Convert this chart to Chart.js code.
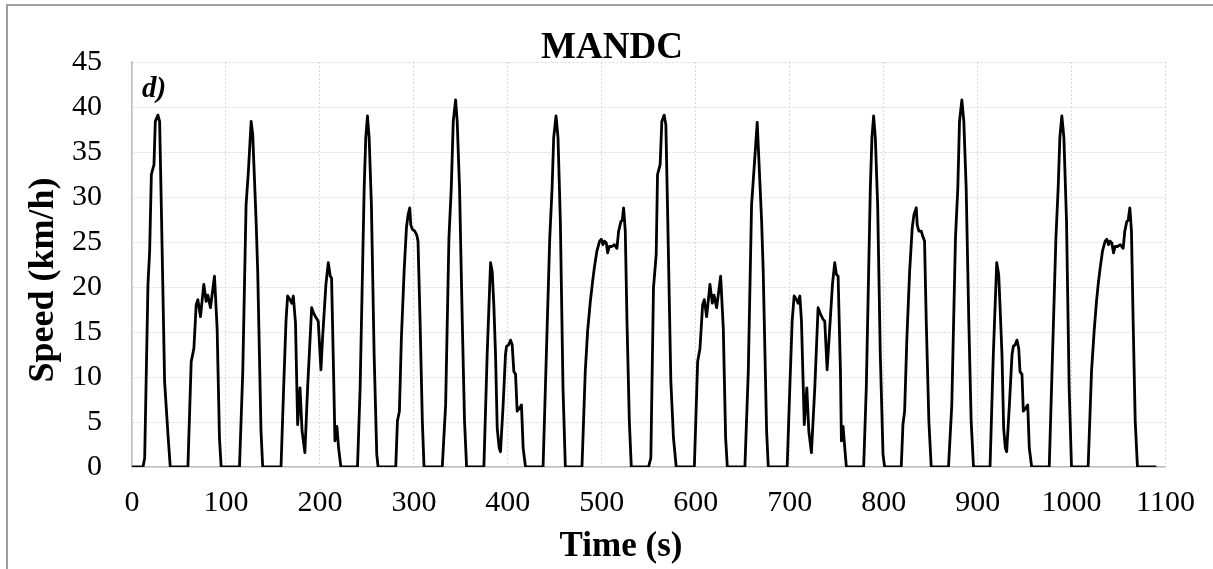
<!DOCTYPE html>
<html>
<head>
<meta charset="utf-8">
<script src="https://cdn.jsdelivr.net/npm/chart.js@4.4.1/dist/chart.umd.min.js"></script>
<style>
  html, body { margin: 0; padding: 0; background: #fff; }
  canvas { display: block; }
</style>
</head>
<body>
<canvas id="speedChart" width="1213" height="569"></canvas>
<script>
// MANDC drive cycle (time in s, speed in km/h)
const timeSec = [
  0, 11.7, 13.5, 17, 18.8, 20.6, 23.4, 24.8, 27.6, 29.4, 31.2, 34.7, 38.3, 40.7,
  59.5, 63, 65.9, 68.3, 70.1, 72.9, 76.4, 78.9, 80.7, 83.5, 87.8, 90.6, 93.1, 94.9,
  114.4, 117.9, 121.4, 123.9, 126.8, 128.5, 132.1, 133.8, 137.3, 139.1,
  158.6, 161.4, 163.9, 165.6, 168.1, 170, 171.7, 174, 176.3, 178.8, 181, 184, 186.9, 191.2, 193.3, 195.8, 198.2, 201.1, 202.8, 206.4, 208.9, 211, 212.4, 214.5, 216, 218.1, 219.9, 222.3,
  240, 242.8, 245.3, 247.1, 248.8, 250.6, 252.4, 254.8, 257.7, 260.5, 261.9,
  280.7, 282.5, 284.6, 286.7, 289.6, 292.1, 293.8, 295.6, 296.7, 298.4, 300.9, 303, 304.4, 306.6, 309, 310.8,
  330.2, 333.8, 337.3, 339.8, 341.9, 344.4, 346.1, 348.6, 351.5, 353.9, 356.1,
  374.5, 378, 381.6, 383.4, 385.1, 386.9, 388.7, 390.8, 392.2, 395, 397.5, 398.6, 401.1, 402.8, 404.6, 406.4, 408.2, 409.9, 412.8, 414.5, 416.3, 418.8,
  437.5, 441, 444.6, 447.1, 448.8, 451.3, 453.4, 455.9, 458.7, 461.2,
  478.9, 482.4, 484.9, 487.8, 490.2, 492, 494.8, 497.7, 499.5, 501.2, 502.7, 504.8, 506.2, 508, 510.8, 513.3, 516.1, 517.9, 520.4, 521.8, 523.2, 525, 526.8, 529.3, 531.4,
  549.7, 552.2, 555, 557.9, 559.3, 562.1, 563.9, 566.4, 568.2, 569.9, 573.5, 576.3, 579.2,
  598.5, 602, 604.5, 607.3, 609.1, 611.6, 615.1, 617.6, 619.4, 622.2, 626.5, 629.3, 631.8, 633.6,
  652.3, 655.9, 659.4, 661.9, 665.4, 670.1, 671.8, 675.4, 677.2,
  697.3, 700.1, 702.6, 704.7, 707.2, 709, 710.8, 712.5, 715.5, 718.2, 720.3, 723.1, 726.7, 730.2, 732.7, 735.5, 737.3, 739.8, 741.9, 745.5, 747.9, 749.7, 751.5, 754, 755, 756.8, 758.6, 760.3,
  778.7, 781.5, 784, 785.8, 787.5, 789.3, 791.1, 793.6, 796.4, 799.3, 801,
  818.7, 820.5, 822.3, 824.7, 827.6, 830.4, 832.2, 834.7, 835.7, 837.5, 840, 841.7, 843.5, 845.3, 848.1, 850.6,
  869, 872.5, 876.4, 878.9, 880.7, 883.2, 885.3, 887.8, 890.6, 893.1, 895.6,
  913.2, 916.7, 920.3, 922.4, 923.8, 925.9, 927.7, 929.5, 930.9, 933.8, 936.6, 938, 940.1, 941.9, 943.7, 945.1, 947.2, 948.6, 951.5, 953.3, 955, 957.5,
  976.2, 979.7, 983.3, 985.7, 987.5, 989.6, 991.8, 994.6, 997.4, 999.9,
  1017.6, 1021.2, 1024, 1026.5, 1028.6, 1030.4, 1032.9, 1035.7, 1037.5, 1039.3, 1041, 1042.8, 1044.6, 1046.4, 1048.8, 1051.7, 1054.9, 1056.6, 1058.8, 1060.2, 1062, 1063.7, 1065.5, 1067.7, 1070.1, 1090.2
];
const speedKmh = [
  0, 0, 1, 20.3, 24, 32.5, 33.6, 38.4, 39.1, 38.4, 29, 9.5, 3.6, 0,
  0, 11.7, 13.2, 18, 18.6, 16.7, 20.3, 18.4, 19.1, 17.7, 21.2, 15.4, 3.2, 0,
  0, 10.6, 29.1, 32.9, 38.4, 36.9, 27.3, 21.7, 4, 0,
  0, 8.8, 16.2, 19, 18.6, 18.2, 19, 16, 4.7, 8.8, 4, 1.6, 8.8, 17.7, 17.1, 16.6, 16.2, 10.8, 14.3, 20.3, 22.7, 21.2, 21, 10.6, 2.9, 4.5, 2.1, 0,
  0, 8.8, 21.7, 31, 36.6, 39, 36.6, 29.1, 12.5, 1.4, 0,
  0, 5.1, 6.2, 14.3, 21.7, 26.6, 28, 28.8, 26.9, 26.4, 26.2, 25.8, 25.1, 16.2, 5.1, 0,
  0, 6.9, 25.4, 31, 38.4, 40.8, 38.4, 31, 16.2, 5.1, 0,
  0, 12.5, 22.7, 21.7, 18, 12.5, 4.3, 2.1, 1.7, 6.9, 12.5, 13.4, 13.6, 14.1, 13.6, 10.6, 10.3, 6.2, 6.6, 6.9, 2.1, 0,
  0, 12.5, 25.4, 31, 36.6, 39, 36.6, 27.3, 8.8, 0,
  0, 10.6, 15.1, 18.4, 20.6, 22.1, 24, 25.1, 25.3, 24.7, 25.1, 24.9, 23.8, 24.5, 24.5, 24.7, 24.3, 26.2, 27.3, 27.4, 28.8, 26.2, 16.2, 5.1, 0,
  0, 1, 19.9, 23.6, 32.5, 33.6, 38.4, 39.1, 38, 29.1, 9.5, 3.2, 0,
  0, 11.7, 13.2, 18, 18.6, 16.7, 20.3, 18.2, 19.1, 17.7, 21.2, 15.4, 3.2, 0,
  0, 10.6, 29.1, 32.9, 38.3, 27.3, 21.7, 4, 0,
  0, 8.8, 16.2, 19, 18.6, 18.2, 19, 16.2, 4.7, 8.8, 4, 1.6, 8.8, 17.7, 17, 16.4, 16.2, 10.8, 14.3, 20.3, 22.7, 21.4, 21.2, 10.6, 2.9, 4.5, 2.1, 0,
  0, 8.8, 21.7, 31, 36.6, 39, 36.6, 29.1, 12.5, 1.4, 0,
  0, 4.7, 6.2, 14.3, 21.7, 26.6, 28, 28.8, 26.9, 26.2, 26.2, 25.6, 25.1, 16.2, 5.1, 0,
  0, 6.9, 25.4, 31, 38.4, 40.8, 38.4, 31, 16.2, 5.1, 0,
  0, 12.5, 22.7, 21.4, 18, 12.5, 4.3, 2.1, 1.7, 6.9, 12.5, 13.4, 13.6, 14.1, 13.2, 10.6, 10.3, 6.2, 6.6, 6.9, 2.1, 0,
  0, 12.5, 25.4, 31, 36.6, 39, 36.6, 27.3, 8.8, 0,
  0, 10.6, 15.1, 18.4, 20.6, 22.1, 24, 25.1, 25.3, 24.7, 25.1, 24.9, 23.8, 24.5, 24.5, 24.7, 24.3, 26.2, 27.3, 27.4, 28.8, 26.2, 16.2, 5.1, 0, 0
];
const xTicks = [0, 100, 200, 300, 400, 500, 600, 700, 800, 900, 1000, 1100];
const yTicks = [0, 5, 10, 15, 20, 25, 30, 35, 40, 45];

const chartTitle = "MANDC";
const panelLabel = "d)";
const xTitle = "Time (s)";
const yTitle = "Speed (km/h)";

const serif = "'Liberation Serif', 'Times New Roman', serif";

// frame, title, panel letter and axis titles drawn by hand to sit where the reference has them
const decorations = {
  id: "decorations",
  beforeDraw(chart) {
    const ctx = chart.ctx;
    ctx.save();
    ctx.fillStyle = "#fff";
    ctx.fillRect(0, 0, chart.width, chart.height);
    ctx.strokeStyle = "#808080";
    ctx.lineWidth = 1.5;
    ctx.strokeRect(7, 5, chart.width + 20, chart.height + 20);
    ctx.restore();
  },
  afterDraw(chart) {
    const ctx = chart.ctx;
    ctx.save();
    ctx.fillStyle = "#000";
    ctx.textAlign = "center";
    ctx.textBaseline = "alphabetic";
    ctx.font = "bold 37px " + serif;
    ctx.fillText(chartTitle, 612, 58);
    ctx.font = "bold 35px " + serif;
    ctx.fillText(xTitle, 621, 556);
    ctx.font = "italic bold 29px " + serif;
    ctx.textAlign = "left";
    ctx.fillText(panelLabel, 142, 97);
    ctx.translate(53, 280);
    ctx.rotate(-Math.PI / 2);
    ctx.textAlign = "center";
    ctx.font = "bold 36px " + serif;
    ctx.fillText(yTitle, 0, 0);
    ctx.restore();
  }
};

new Chart(document.getElementById("speedChart"), {
  type: "line",
  data: {
    datasets: [{
      data: timeSec.map((t, i) => ({ x: t, y: speedKmh[i] })),
      borderColor: "#000",
      borderWidth: 2.8,
      borderJoinStyle: "round",
      pointRadius: 0,
      tension: 0,
      fill: false
    }]
  },
  options: {
    responsive: false,
    animation: false,
    layout: { padding: { top: 62, right: 45, left: 0, bottom: 0 } },
    plugins: { legend: { display: false }, title: { display: false }, tooltip: { enabled: false } },
    scales: {
      x: {
        type: "linear",
        min: 0,
        max: 1100,
        afterBuildTicks: (scale) => { scale.ticks = xTicks.map((v) => ({ value: v })); },
        afterFit: (scale) => { scale.height = 102; },
        ticks: {
          font: { family: serif, size: 30 },
          color: "#000",
          padding: 18,
          maxRotation: 0,
          callback: (v) => String(v)
        },
        grid: { color: "#d9d9d9", lineWidth: 1, drawTicks: false },
        border: { display: true, color: "#bfbfbf", width: 1.5, dash: [2, 2] }
      },
      y: {
        min: 0,
        max: 45,
        afterBuildTicks: (scale) => { scale.ticks = yTicks.map((v) => ({ value: v })); },
        afterFit: (scale) => { scale.width = 132; },
        ticks: { font: { family: serif, size: 30 }, color: "#000", padding: 30, callback: (v) => String(v) },
        grid: { color: "#d9d9d9", lineWidth: 1, drawTicks: false },
        border: { display: true, color: "#bfbfbf", width: 1.5, dash: [2, 2] }
      }
    }
  },
  plugins: [decorations]
});
</script>
</body>
</html>
